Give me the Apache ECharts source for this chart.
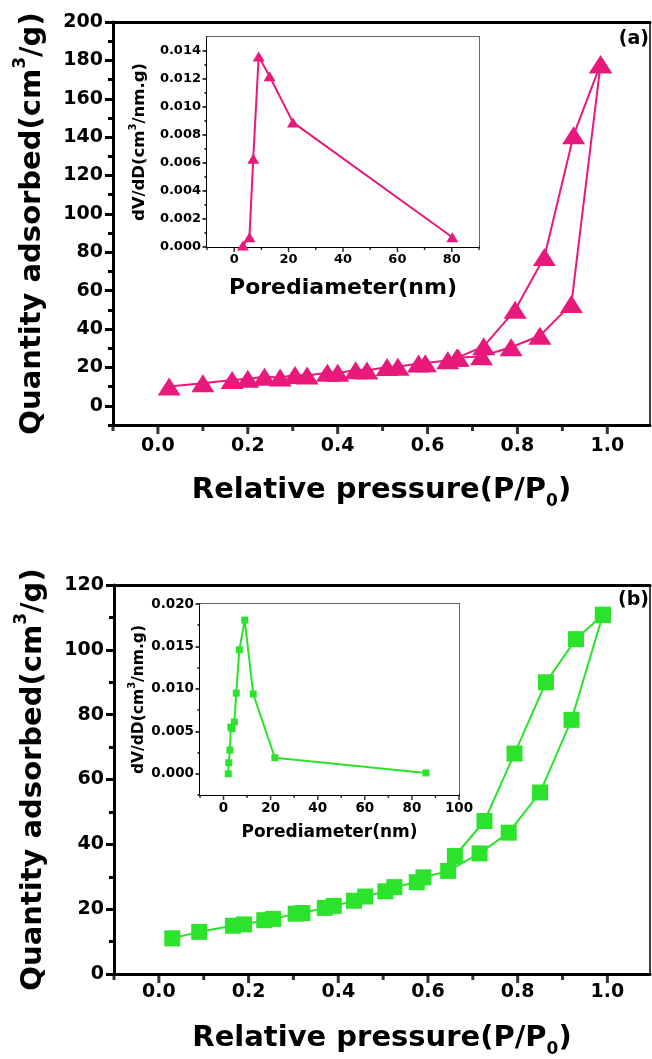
<!DOCTYPE html>
<html><head><meta charset="utf-8">
<script src="https://cdn.jsdelivr.net/npm/echarts@6/dist/echarts.min.js"></script>
<style>html,body{margin:0;padding:0;background:#fff}#c{width:652px;height:1059px}</style>
</head><body><div id="c"></div>
<script>
// ---------- data ----------
const aAdsP = [0.025,0.10,0.165,0.20,0.237,0.272,0.305,0.332,0.377,0.40,0.44,0.465,0.51,0.534,0.58,0.595,0.645,0.668,0.72,0.786,0.85,0.92,0.985];
const aAdsQ = [10,11.7,13.4,14.1,15.1,14.8,16.1,15.8,17.2,17.2,18.5,18.4,20.2,20.4,22,22.2,23.7,25,25.8,30.5,36.5,53,178];
const aDesP = [0.985,0.925,0.86,0.795,0.725,0.665];
const aDesQ = [178,141,77.5,50,31,25];
const aPoreD = [3.2,5.6,7.0,9.0,13.0,21.6,80.2];
const aPoreV = [0.0001,0.0007,0.0063,0.0136,0.0122,0.0089,0.0007];

const bAdsP = [0.03,0.09,0.165,0.19,0.235,0.255,0.305,0.32,0.37,0.39,0.435,0.46,0.505,0.525,0.575,0.59,0.645,0.715,0.78,0.85,0.92,0.99];
const bAdsQ = [11,13,14.9,15.3,16.6,17,18.6,18.8,20.4,21,22.6,23.9,25.5,26.8,28.3,29.8,31.8,37.2,43.6,56,78.4,110.8];
const bDesP = [0.99,0.93,0.863,0.793,0.726,0.66];
const bDesQ = [110.8,103.3,90,68,47.2,36.4];
const bPoreD = [2.0,2.2,2.7,3.1,3.6,4.6,5.4,6.7,9.0,12.6,21.8,86];
const bPoreV = [0.0000,0.0013,0.0028,0.0055,0.0053,0.0061,0.0095,0.0146,0.0181,0.0094,0.0019,0.0001];

// tick labels
const mainXTicks = [0,0.2,0.4,0.6,0.8,1.0];
const mainXMinor = [-0.1,0.1,0.3,0.5,0.7,0.9];
const aYTicks = [0,20,40,60,80,100,120,140,160,180,200];
const aYMinor = [-10,10,30,50,70,90,110,130,150,170,190];
const bYTicks = [0,20,40,60,80,100,120];
const bYMinor = [10,30,50,70,90,110];
const aInXTicks = [0,20,40,60,80];
const aInXMinor = [-10,10,30,50,70,90];
const aInYTicks = [0,0.002,0.004,0.006,0.008,0.010,0.012,0.014];
const aInYMinor = [0.001,0.003,0.005,0.007,0.009,0.011,0.013];
const bInXTicks = [0,20,40,60,80,100];
const bInXMinor = [-10,10,30,50,70,90];
const bInYTicks = [0,0.005,0.010,0.015,0.020];
const bInYMinor = [-0.0025,0.0025,0.0075,0.0125,0.0175];

const zip = (a,b) => a.map((v,i)=>[v,b[i]]);
const FONT = 'DejaVu Sans';
const PINK = '#e8197b';
const GREEN = '#2be32b';

const xAxes = [], yAxes = [];
function tickAxis(gi, pos, min, max, vals, len, w) {
  return {type:'value', gridIndex:gi, position:pos, min:min, max:max,
    axisLine:{show:false,onZero:false}, axisTick:{show:true,inside:false,length:len,customValues:vals,lineStyle:{color:'#000',width:w}},
    axisLabel:{show:false}, splitLine:{show:false}};
}
function addAxes(gi, c) {
  const xi = xAxes.length, yi = yAxes.length;
  const lab = (size, margin, fmt, vals) => ({show:true, customValues: vals, formatter: fmt, margin: margin,
    fontFamily: FONT, fontWeight: 'bold', fontSize: size, color: '#000'});
  xAxes.push({type:'value', gridIndex:gi, position:'bottom', min:c.xMin, max:c.xMax,
    axisLine:{show:true,onZero:false,lineStyle:{color:'#000',width:c.lineW}},
    axisTick:{show:false}, axisLabel:lab(c.xLabSize,c.xMargin,c.xFmt,c.xTicks), splitLine:{show:false},
    name:c.xName, nameLocation:'middle', nameGap:c.xNameGap, nameTextStyle:c.xNameStyle});
  xAxes.push({type:'value', gridIndex:gi, position:'top', min:c.xMin, max:c.xMax,
    axisLine:{show:true,onZero:false,lineStyle:{color:c.borderColor,width:c.topW}}, axisTick:{show:false},
    axisLabel:{show:false}, splitLine:{show:false}});
  yAxes.push({type:'value', gridIndex:gi, position:'left', min:c.yMin, max:c.yMax,
    axisLine:{show:true,onZero:false,lineStyle:{color:'#000',width:c.lineW}},
    axisTick:{show:false}, axisLabel:lab(c.yLabSize,c.yMargin,c.yFmt,c.yTicks), splitLine:{show:false},
    name:c.yName, nameLocation:'middle', nameRotate:90, nameGap:c.yNameGap, nameTextStyle:c.yNameStyle});
  yAxes.push(tickAxis(gi, 'left', c.yMin, c.yMax, c.yTicks, c.tickLen, c.tickW));
  yAxes.push(tickAxis(gi, 'left', c.yMin, c.yMax, c.yMinor, c.minorLen, c.tickW));
  yAxes.push({type:'value', gridIndex:gi, position:'right', min:c.yMin, max:c.yMax,
    axisLine:{show:true,onZero:false,lineStyle:{color:c.borderColor,width:c.rightW}}, axisTick:{show:false},
    axisLabel:{show:false}, splitLine:{show:false}});
  return {xi, yi, c};
}

const mainXName = '{m|Relative pressure(P/P}{s|0}{m|)}';
const mainXStyle = {rich:{
  m:{fontFamily:FONT,fontWeight:'bold',fontSize:29,lineHeight:40,verticalAlign:'middle',color:'#000'},
  s:{fontFamily:FONT,fontWeight:'bold',fontSize:17,lineHeight:17,verticalAlign:'bottom',color:'#000'}}};
const mainYName = '{m|Quantity adsorbed(cm}{p|3}{m|/g)}';
const mainYStyle = {rich:{
  m:{fontFamily:FONT,fontWeight:'bold',fontSize:29,lineHeight:40,verticalAlign:'middle',color:'#000'},
  p:{fontFamily:FONT,fontWeight:'bold',fontSize:17,lineHeight:17,verticalAlign:'top',color:'#000'}}};
const inYName = '{m|dV/dD(cm}{p|3}{m|/nm.g)}';
const inYStyle = (fs) => ({rich:{
  m:{fontFamily:FONT,fontWeight:'bold',fontSize:fs,lineHeight:24,verticalAlign:'middle',color:'#000'},
  p:{fontFamily:FONT,fontWeight:'bold',fontSize:Math.round(fs*0.62),lineHeight:10,verticalAlign:'top',color:'#000'}}});
const inXStyle = (fs,lh) => ({fontFamily:FONT,fontWeight:'bold',fontSize:fs,lineHeight:lh,color:'#000'});

const f1 = v => v.toFixed(1), f0 = v => String(Math.round(v)), f3 = v => v.toFixed(3);

const A = addAxes(0, {xMin:-0.1,xMax:1.095,yMin:-10,yMax:200,xTicks:mainXTicks,xMinor:mainXMinor,yTicks:aYTicks,yMinor:aYMinor,
  lineW:3,tickLen:8,minorLen:5,tickW:3,topW:3,rightW:1.5,borderColor:'#000',
  xLabSize:19,yLabSize:19,xMargin:12,yMargin:10,xFmt:f1,yFmt:f0,
  xName:mainXName,xNameGap:45,xNameStyle:mainXStyle,yName:mainYName,yNameGap:61,yNameStyle:mainYStyle});
const AI = addAxes(1, {xMin:-10,xMax:90,yMin:0,yMax:0.015,xTicks:aInXTicks,xMinor:aInXMinor,yTicks:aInYTicks,yMinor:aInYMinor,
  lineW:2,tickLen:4.5,minorLen:2.5,tickW:1.5,topW:1.5,rightW:1.5,borderColor:'#333',
  xLabSize:13,yLabSize:13,xMargin:6,yMargin:6,xFmt:f0,yFmt:f3,
  xName:'Porediameter(nm)',xNameGap:28,xNameStyle:inXStyle(22,26),yName:inYName,yNameGap:55,yNameStyle:inYStyle(16.5)});
const B = addAxes(2, {xMin:-0.1,xMax:1.095,yMin:0,yMax:120,xTicks:mainXTicks,xMinor:mainXMinor,yTicks:bYTicks,yMinor:bYMinor,
  lineW:3,tickLen:8,minorLen:5,tickW:3,topW:3,rightW:1.5,borderColor:'#000',
  xLabSize:19,yLabSize:19,xMargin:9,yMargin:10,xFmt:f1,yFmt:f0,
  xName:mainXName,xNameGap:44,xNameStyle:mainXStyle,yName:mainYName,yNameGap:61,yNameStyle:mainYStyle});
const BI = addAxes(3, {xMin:-10,xMax:100,yMin:-0.0025,yMax:0.020,xTicks:bInXTicks,xMinor:bInXMinor,yTicks:bInYTicks,yMinor:bInYMinor,
  lineW:2,tickLen:4.5,minorLen:2.5,tickW:1.5,topW:1.5,rightW:1.5,borderColor:'#333',
  xLabSize:13.5,yLabSize:13.5,xMargin:6,yMargin:6,xFmt:f0,yFmt:f3,
  xName:'Porediameter(nm)',xNameGap:27,xNameStyle:inXStyle(17,22),yName:inYName,yNameGap:45,yNameStyle:inYStyle(15.5)});

const line = (ax, data, color, symbol, size, lw, z) => ({type:'line', xAxisIndex:ax.xi, yAxisIndex:ax.yi, data,
  symbol, symbolSize:size, showSymbol:true, lineStyle:{color, width:lw}, itemStyle:{color, opacity:1},
  emphasis:{disabled:true}, animation:false, z, clip:false});
// x-axis tick marks, placed on the bottom axis through the library's scales
const xTickMarks = (ax, vals, len) => ({type:'scatter', xAxisIndex:ax.xi, yAxisIndex:ax.yi,
  data: vals.map(v => [v, ax.c.yMin]), symbol:'rect', symbolSize:[ax.c.tickW, len], symbolOffset:[0, len/2 + ax.c.lineW/2 - 0.5],
  itemStyle:{color:'#000'}, silent:true, clip:false, z:6, animation:false, emphasis:{disabled:true}});

const option = {
  backgroundColor:'#fff',
  animation:false,
  grid:[
    {left:113, top:22, width:537, height:403, containLabel:false},
    {left:207, top:37, width:272, height:210, show:true, backgroundColor:'#fff', borderWidth:0, z:5},
    {left:114, top:585, width:536, height:394, containLabel:false},
    {left:200, top:604, width:259, height:191, show:true, backgroundColor:'#fff', borderWidth:0, z:5}
  ],
  xAxis: xAxes, yAxis: yAxes,
  series:[
    line(A, zip(aAdsP,aAdsQ), PINK, 'triangle', [23,18], 2, 3),
    line(A, zip(aDesP,aDesQ), PINK, 'triangle', [23,18], 2, 3),
    line(AI, zip(aPoreD,aPoreV), PINK, 'triangle', [12,10], 2, 10),
    line(B, zip(bAdsP,bAdsQ), GREEN, 'rect', 16, 2, 3),
    line(B, zip(bDesP,bDesQ), GREEN, 'rect', 16, 2, 3),
    line(BI, zip(bPoreD,bPoreV), GREEN, 'rect', 7, 2, 10),
    xTickMarks(A, mainXTicks, 8), xTickMarks(A, mainXMinor, 5),
    xTickMarks(B, mainXTicks, 8), xTickMarks(B, mainXMinor, 5),
    xTickMarks(AI, aInXTicks, 4.5), xTickMarks(AI, aInXMinor, 2.5),
    xTickMarks(BI, bInXTicks, 4.5), xTickMarks(BI, bInXMinor, 2.5)
  ],
  graphic:[
    {type:'text', right:3, top:30, style:{text:'(a)', fontFamily:FONT, fontWeight:'bold', fontSize:19, fill:'#000'}},
    {type:'text', right:3, top:591, style:{text:'(b)', fontFamily:FONT, fontWeight:'bold', fontSize:19, fill:'#000'}}
  ]
};
const chart = echarts.init(document.getElementById('c'), null, {renderer:'canvas'});
chart.setOption(option);
</script></body></html>
